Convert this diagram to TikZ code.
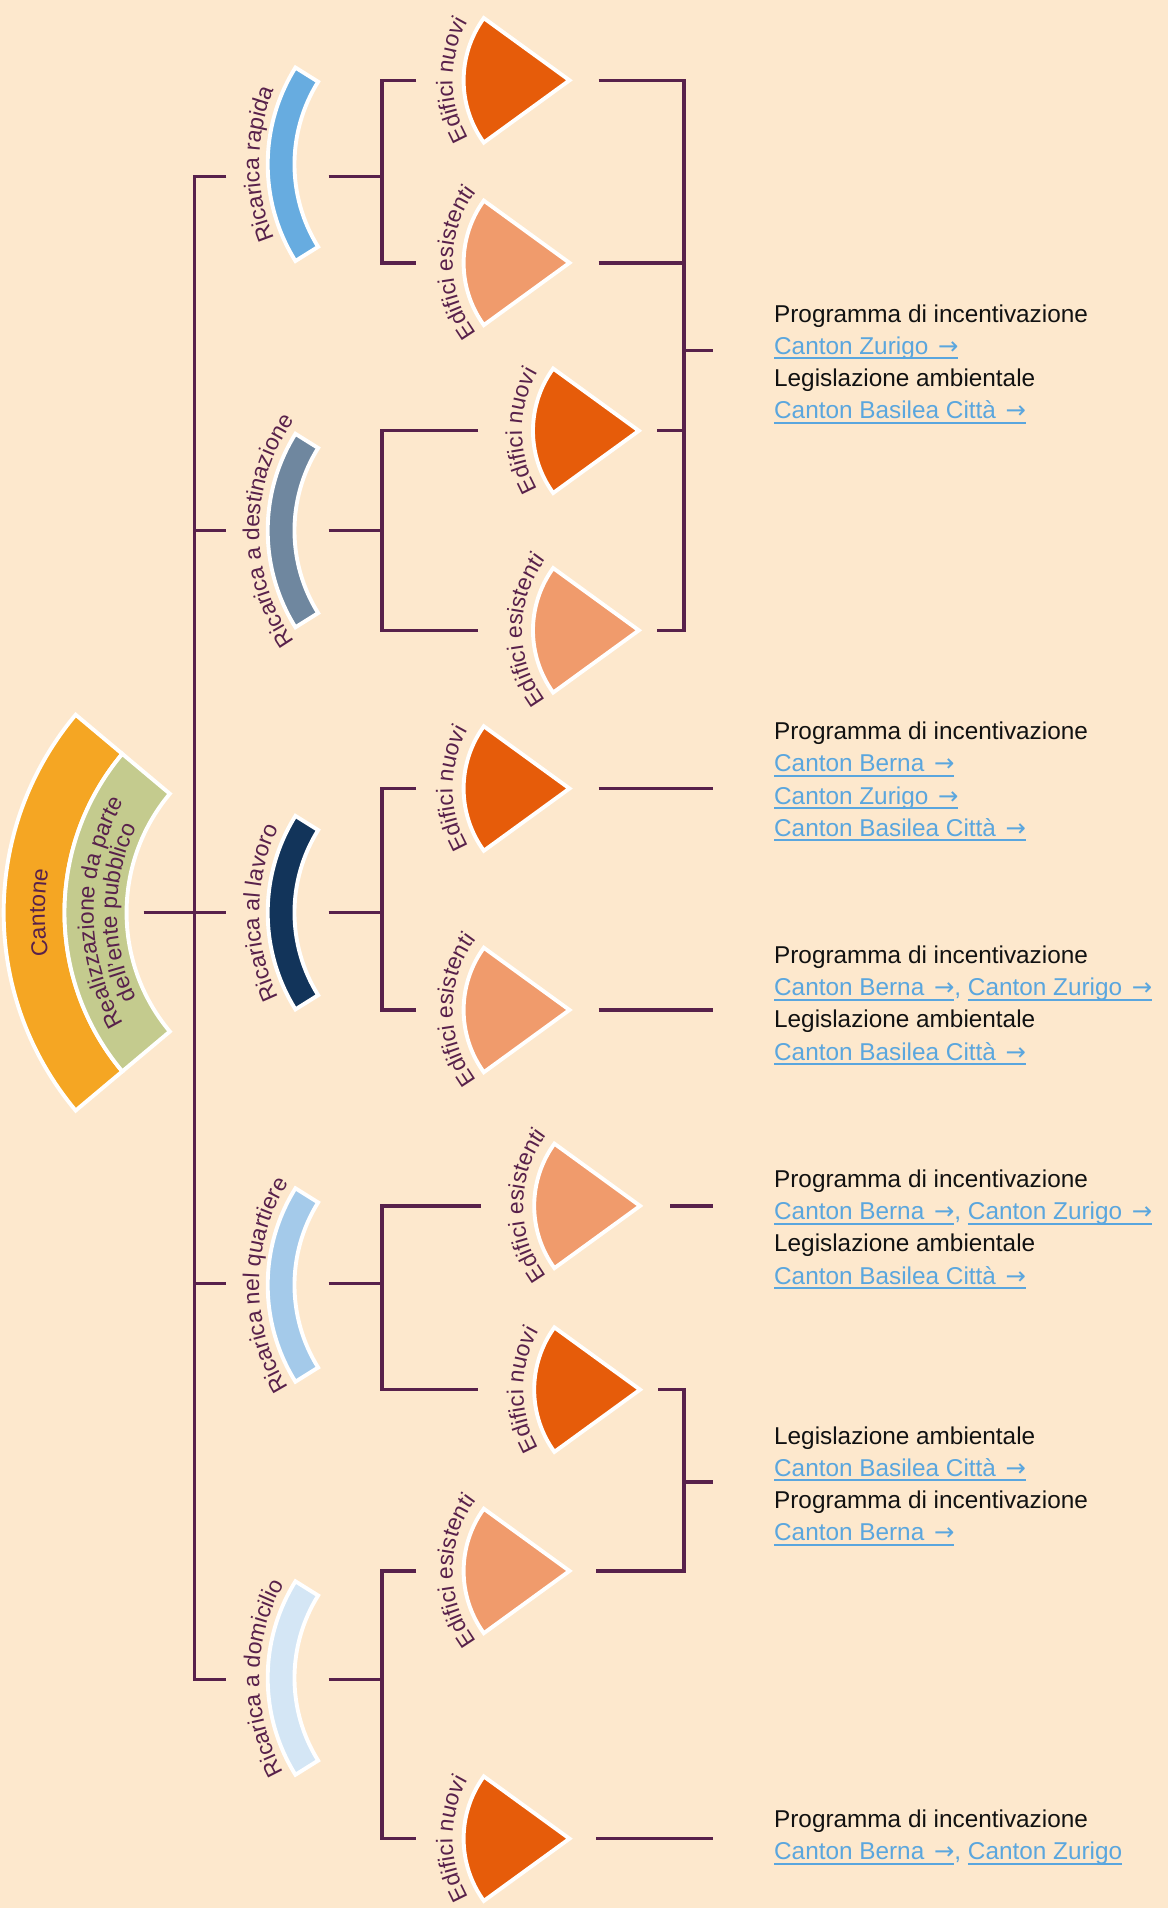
\documentclass[tikz,border=0pt]{standalone}
\usepackage{fontspec}
\setmainfont{Liberation Sans}
\newfontfamily\arrowfont{DejaVu Sans}
\usetikzlibrary{decorations.text}

\definecolor{bg}{HTML}{FDE8CD}
\definecolor{plum}{HTML}{58214B}
\definecolor{ink}{HTML}{111111}
\definecolor{linkblue}{HTML}{5AA6DE}
\definecolor{cantorange}{HTML}{F5A623}
\definecolor{publgreen}{HTML}{C4CB8E}
\definecolor{rapblue}{HTML}{67ACE0}
\definecolor{destblue}{HTML}{6F879F}
\definecolor{lavblue}{HTML}{12345A}
\definecolor{quarblue}{HTML}{A4CAEA}
\definecolor{domblue}{HTML}{D4E6F5}
\definecolor{newbld}{HTML}{E65C0A}
\definecolor{oldbld}{HTML}{F09B6C}

\newcommand\lblfont{\fontsize{18.8}{22}\selectfont}
\newcommand\arr{\hspace{0.12em}{\arrowfont →}}
% underlined link text
\newcommand\lnk[1]{\setbox0=\hbox{#1}\rlap{\rule[-3.9pt]{\wd0}{1.6pt}}\box0}
% ring segment opening to the right: centre, inner r, outer r, half angle, fill
\newcommand\bandarc[5]{%
  \filldraw[outline, fill=#5, shift={(#1)}]
    ({180-#4}:#3) arc[start angle={180-#4}, end angle={180+#4}, radius=#3]
    -- ({180+#4}:#2) arc[start angle={180+#4}, end angle={180-#4}, radius=#2] -- cycle;}
% pie slice pointing right: apex, fill
\newcommand\sector[2]{%
  \filldraw[outline, fill=#2, shift={(#1)}]
    (0,0) -- (144:87) arc[start angle=144, end angle=216, radius=87] -- cycle;}
% text bent round a centre, read upwards: centre, radius, text
\newcommand\curvlabel[3]{%
  \path[shift={(#1)}, decorate, decoration={text along path, text align=center,
      text color=plum, text={|\lblfont|#3}}]
    (110:#2) arc[start angle=110, end angle=250, radius=#2];}

\begin{document}
\begin{tikzpicture}[x=1pt, y=-1pt,
  conn/.style={draw=plum, line width=2.8pt},
  outline/.style={draw=white, line width=3.2pt, line join=miter},
  info/.style={anchor=base west, inner sep=0pt, text=ink,
    font=\fontsize{20}{24}\selectfont},
  linkline/.style={info, text=linkblue}]

\useasboundingbox (0,0) rectangle (960,1568);
\fill[bg] (0,0) rectangle (960,1568);

% ---------- centres and apexes ----------
\coordinate (cantC) at (256,750);
\coordinate (rapC)  at (370,135);
\coordinate (destC) at (370,436);
\coordinate (lavC)  at (370,750);
\coordinate (quarC) at (370,1056);
\coordinate (domC)  at (370,1379);

\coordinate (n1) at (468,66);   \coordinate (e1) at (468,216);
\coordinate (n2) at (525,354);  \coordinate (e2) at (525,518);
\coordinate (n3) at (468,648);  \coordinate (e3) at (468,830);
\coordinate (e4) at (526,991);  \coordinate (n4) at (526,1142);
\coordinate (e5) at (468,1291); \coordinate (n5) at (468,1511);

% ---------- root ----------
\bandarc{cantC}{203}{253}{40}{cantorange}
\bandarc{cantC}{152}{203}{40}{publgreen}
\curvlabel{cantC}{219}{Cantone}
\curvlabel{cantC}{179}{Realizzazione da parte}
\curvlabel{cantC}{160}{dell'ente pubblico}

% ---------- charging types ----------
\bandarc{rapC}{128}{150}{32}{rapblue}
\bandarc{destC}{128}{150}{32}{destblue}
\bandarc{lavC}{128}{150}{32}{lavblue}
\bandarc{quarC}{128}{150}{32}{quarblue}
\bandarc{domC}{128}{150}{32}{domblue}
\curvlabel{rapC}{157}{Ricarica rapida}
\curvlabel{destC}{157}{Ricarica a destinazione}
\curvlabel{lavC}{157}{Ricarica al lavoro}
\curvlabel{quarC}{157}{Ricarica nel quartiere}
\curvlabel{domC}{157}{Ricarica a domicilio}

% ---------- buildings ----------
\sector{n1}{newbld} \curvlabel{n1}{96}{Edifici nuovi}
\sector{e1}{oldbld} \curvlabel{e1}{96}{Edifici esistenti}
\sector{n2}{newbld} \curvlabel{n2}{96}{Edifici nuovi}
\sector{e2}{oldbld} \curvlabel{e2}{96}{Edifici esistenti}
\sector{n3}{newbld} \curvlabel{n3}{96}{Edifici nuovi}
\sector{e3}{oldbld} \curvlabel{e3}{96}{Edifici esistenti}
\sector{e4}{oldbld} \curvlabel{e4}{96}{Edifici esistenti}
\sector{n4}{newbld} \curvlabel{n4}{96}{Edifici nuovi}
\sector{e5}{oldbld} \curvlabel{e5}{96}{Edifici esistenti}
\sector{n5}{newbld} \curvlabel{n5}{96}{Edifici nuovi}

% ---------- trunk ----------
\coordinate (cantOut)  at (118,750);
\coordinate (trunkTop) at (160,145);
\coordinate (trunkBot) at (160,1380);
\coordinate (rapIn)  at (186,145);
\coordinate (destIn) at (186,436);
\coordinate (lavIn)  at (186,750);
\coordinate (quarIn) at (186,1055);
\coordinate (domIn)  at (186,1380);

\draw[conn] (rapIn) -- (trunkTop) -- (trunkBot) -- (domIn);
\draw[conn] (cantOut) -- (lavIn);
\draw[conn] (destIn -| trunkTop) -- (destIn);
\draw[conn] (quarIn -| trunkTop) -- (quarIn);

% ---------- charging type to buildings ----------
\coordinate (split) at (314,0);
\coordinate (rapOut)  at (270,145);
\coordinate (destOut) at (270,436);
\coordinate (lavOut)  at (270,750);
\coordinate (quarOut) at (270,1055);
\coordinate (domOut)  at (270,1380);

\coordinate (n1in) at (342,66);   \coordinate (e1in) at (342,216);
\coordinate (n2in) at (393,354);  \coordinate (e2in) at (393,518);
\coordinate (n3in) at (342,648);  \coordinate (e3in) at (342,830);
\coordinate (e4in) at (395,991);  \coordinate (n4in) at (393,1142);
\coordinate (e5in) at (342,1291); \coordinate (n5in) at (342,1511);

\draw[conn] (rapOut) -- (rapOut -| split);
\draw[conn] (n1in) -- (n1in -| split) -- (e1in -| split) -- (e1in);
\draw[conn] (destOut) -- (destOut -| split);
\draw[conn] (n2in) -- (n2in -| split) -- (e2in -| split) -- (e2in);
\draw[conn] (lavOut) -- (lavOut -| split);
\draw[conn] (n3in) -- (n3in -| split) -- (e3in -| split) -- (e3in);
\draw[conn] (quarOut) -- (quarOut -| split);
\draw[conn] (e4in) -- (e4in -| split) -- (n4in -| split) -- (n4in);
\draw[conn] (domOut) -- (domOut -| split);
\draw[conn] (e5in) -- (e5in -| split) -- (n5in -| split) -- (n5in);

% ---------- buildings to measures ----------
\coordinate (n1out) at (492,66);   \coordinate (e1out) at (492,216);
\coordinate (n2out) at (540,354);  \coordinate (e2out) at (540,518);
\coordinate (n3out) at (492,648);  \coordinate (e3out) at (492,830);
\coordinate (e4out) at (551,991);  \coordinate (n4out) at (541,1142);
\coordinate (e5out) at (490,1291); \coordinate (n5out) at (490,1511);

\coordinate (j1) at (562,288);  \coordinate (o1) at (586,288);
\coordinate (j5) at (562,1218); \coordinate (o5) at (586,1218);
\coordinate (o2) at (586,648);
\coordinate (o3) at (586,830);
\coordinate (o4) at (586,991);
\coordinate (o6) at (586,1511);

\draw[conn] (n1out) -- (n1out -| j1) -- (e2out -| j1) -- (e2out);
\draw[conn] (e1out) -- (e1out -| j1);
\draw[conn] (n2out) -- (n2out -| j1);
\draw[conn] (j1) -- (o1);
\draw[conn] (n3out) -- (o2);
\draw[conn] (e3out) -- (o3);
\draw[conn] (e4out) -- (o4);
\draw[conn] (n4out) -- (n4out -| j5) -- (e5out -| j5) -- (e5out);
\draw[conn] (j5) -- (o5);
\draw[conn] (n5out) -- (o6);

% ---------- measures ----------
\node[info]     (m1a) at (636,265)   {Programma di incentivazione};
\node[linkline] (m1b) at (636,291.4) {\lnk{Canton Zurigo \arr}};
\node[info]     (m1c) at (636,317.8) {Legislazione ambientale};
\node[linkline] (m1d) at (636,344.2) {\lnk{Canton Basilea Città \arr}};

\node[info]     (m2a) at (636,608)   {Programma di incentivazione};
\node[linkline] (m2b) at (636,634.4) {\lnk{Canton Berna \arr}};
\node[linkline] (m2c) at (636,660.8) {\lnk{Canton Zurigo \arr}};
\node[linkline] (m2d) at (636,687.2) {\lnk{Canton Basilea Città \arr}};

\node[info]     (m3a) at (636,792)   {Programma di incentivazione};
\node[linkline] (m3b) at (636,818.4) {\lnk{Canton Berna \arr}, \lnk{Canton Zurigo \arr}};
\node[info]     (m3c) at (636,844.8) {Legislazione ambientale};
\node[linkline] (m3d) at (636,871.2) {\lnk{Canton Basilea Città \arr}};

\node[info]     (m4a) at (636,976)    {Programma di incentivazione};
\node[linkline] (m4b) at (636,1002.4) {\lnk{Canton Berna \arr}, \lnk{Canton Zurigo \arr}};
\node[info]     (m4c) at (636,1028.8) {Legislazione ambientale};
\node[linkline] (m4d) at (636,1055.2) {\lnk{Canton Basilea Città \arr}};

\node[info]     (m5a) at (636,1187)   {Legislazione ambientale};
\node[linkline] (m5b) at (636,1213.4) {\lnk{Canton Basilea Città \arr}};
\node[info]     (m5c) at (636,1239.8) {Programma di incentivazione};
\node[linkline] (m5d) at (636,1266.2) {\lnk{Canton Berna \arr}};

\node[info]     (m6a) at (636,1502)   {Programma di incentivazione};
\node[linkline] (m6b) at (636,1528.4) {\lnk{Canton Berna \arr}, \lnk{Canton Zurigo}};

\end{tikzpicture}
\end{document}
